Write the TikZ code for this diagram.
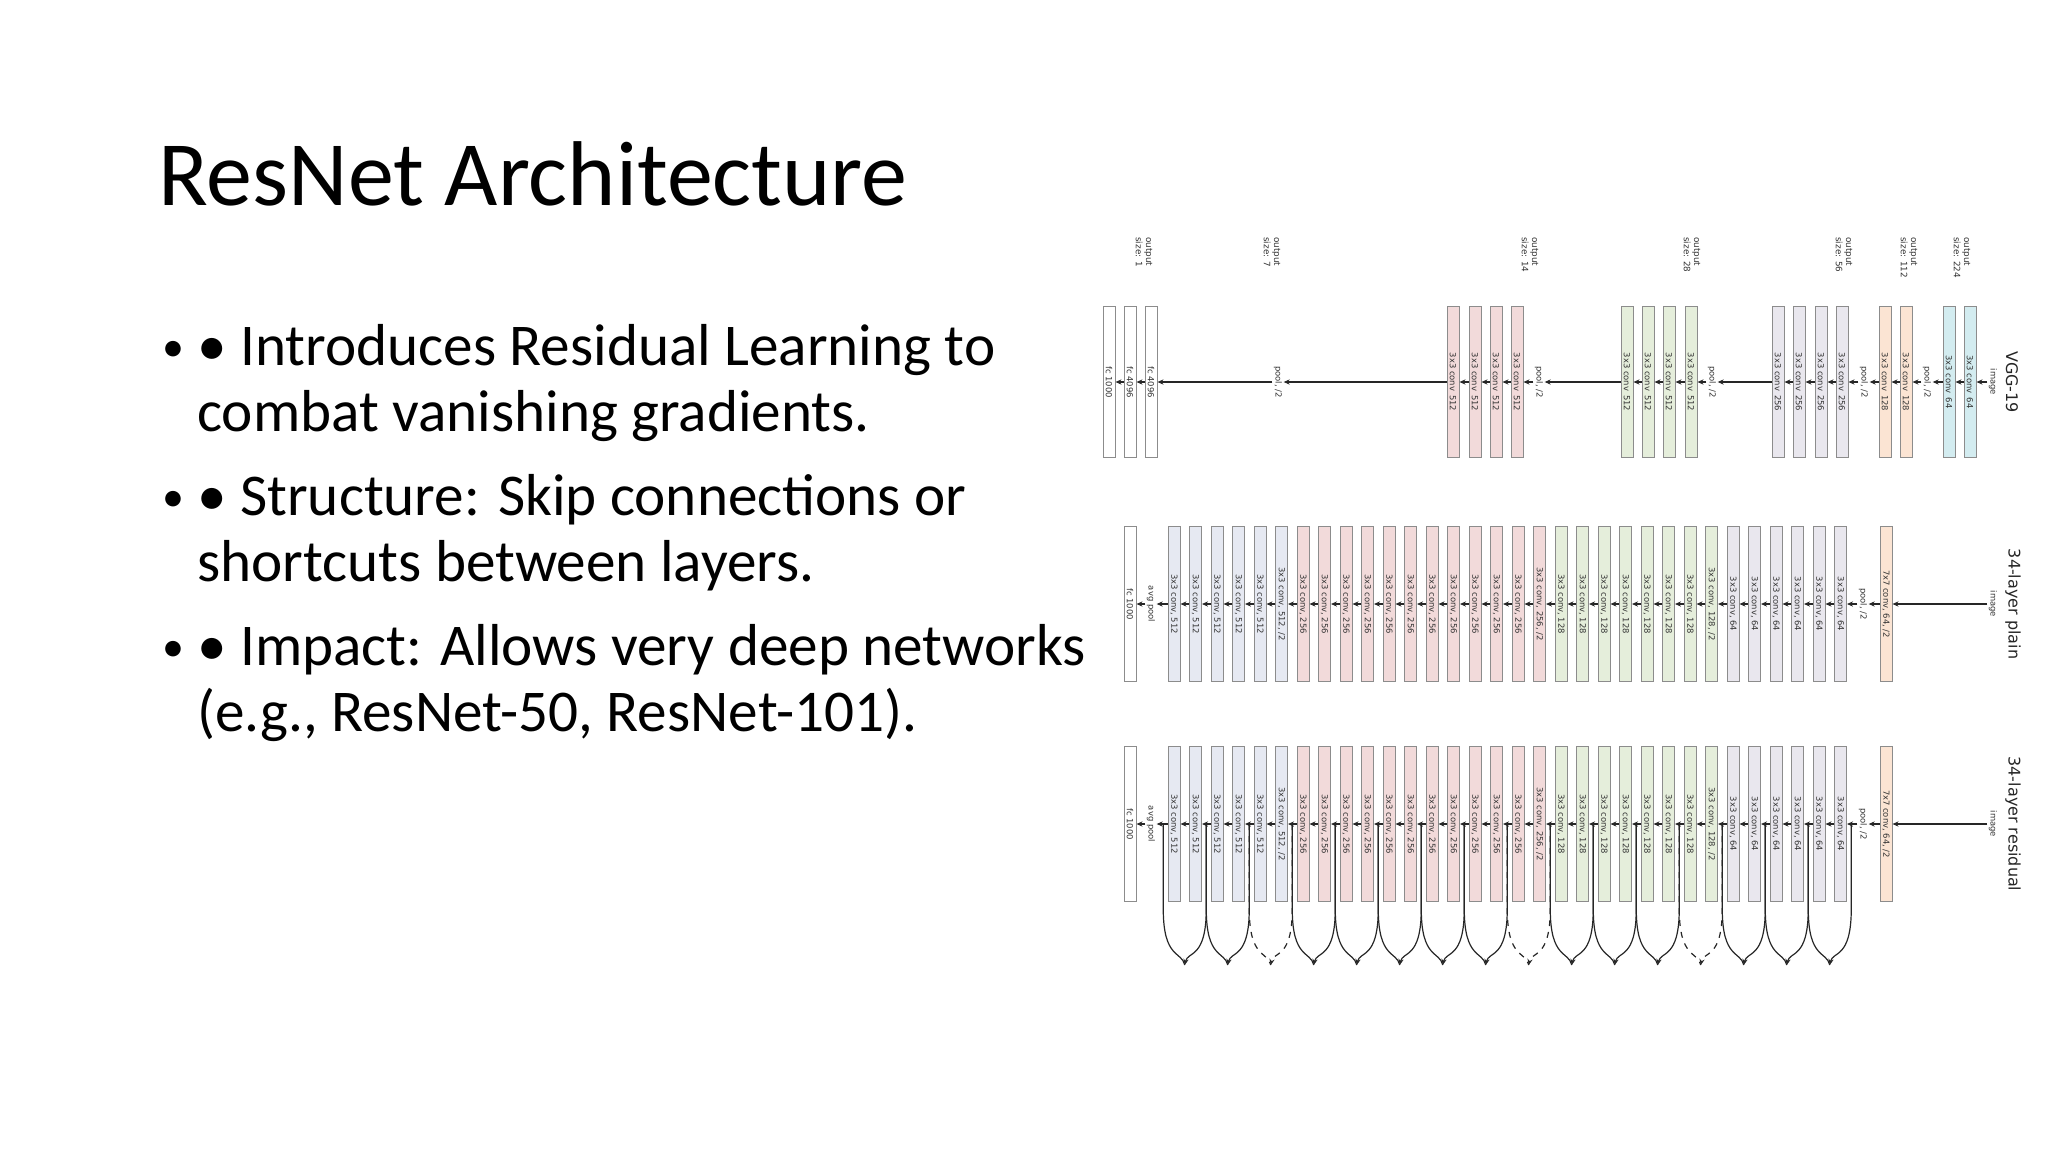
\documentclass[tikz,border=0pt]{standalone}
\usepackage{fontspec}
\setmainfont{Carlito}
\newfontfamily\dia{DejaVu Sans}
\usetikzlibrary{arrows.meta}
\definecolor{c512}{HTML}{E6E9F2}
\definecolor{c256}{HTML}{F2DADA}
\definecolor{c128}{HTML}{E5EEDB}
\definecolor{c64}{HTML}{E9E7EE}
\definecolor{cor}{HTML}{FBE4D3}
\definecolor{cbl}{HTML}{D3ECF0}
\newcommand\convrow[2]{%
  \foreach \i in {0,...,31}{%
    \pgfmathsetmacro\xx{1192+21.5*\i}%
    \ifnum\i<6 \def\rcol{c512}\def\rlab{512}\else\ifnum\i<18 \def\rcol{c256}\def\rlab{256}\else\ifnum\i<26 \def\rcol{c128}\def\rlab{128}\else\def\rcol{c64}\def\rlab{64}\fi\fi\fi
    \ifnum\i=5 \def\rlab{512, /2}\fi
    \ifnum\i=17 \def\rlab{256, /2}\fi
    \ifnum\i=25 \def\rlab{128, /2}\fi
    \node[box, fill=\rcol, minimum width=77.5pt] (#1\i) at (\xx,#2) {3x3 conv, \rlab};
  }%
  \foreach \i [evaluate=\i as \j using int(\i+1)] in {0,...,30}{\draw[arr] (#1\j) -- (#1\i);}
  \node[box, fill=cor, minimum width=77.5pt] (#1c7) at (1904,#2) {7x7 conv, 64, /2};
  \node[lbl] (#1pool) at (1881,#2) {pool, /2};
  \node[lbl] (#1img) at (2011,#2) {image};
  \node[lbl] (#1avg) at (1169,#2) {avg pool};
  \node[box, fill=white, minimum width=77.5pt] (#1fc) at (1148,#2) {fc 1000};
  \draw[arr] (#1img) -- (#1c7);
  \draw[arr] (#1c7) -- (#1pool);
  \draw[arr] (#1pool) -- (#131);
  \draw[arr] (#10) -- (#1avg);
  \draw[arr] (#1avg) -- (#1fc);
}
\begin{document}
\begin{tikzpicture}[x=0.5pt,y=-0.5pt,
  box/.style={draw=black!45, line width=0.5pt, minimum height=6pt, inner sep=0pt, rotate=-90, font=\dia\fontsize{4.2}{4.5}\selectfont, text=black!80},
  lbl/.style={rotate=-90, font=\dia\fontsize{4.2}{4.5}\selectfont, text=black!80, inner sep=0.6pt},
  osz/.style={rotate=-90, anchor=west, align=left, font=\dia\fontsize{4.4}{5.2}\selectfont, text=black!80, inner sep=0pt},
  ttl/.style={rotate=-90, font=\dia\fontsize{8}{9}\selectfont, text=black!85},
  arr/.style={-{Stealth[length=3pt,width=2.6pt]}, line width=0.7pt, black!85},
  skip/.style={line width=0.6pt, black!85},
  bul/.style={anchor=base west, font=\fontsize{29.6}{34}\selectfont, inner sep=0pt},
  mk/.style={anchor=base west, font=\fontsize{22}{26}\selectfont, inner sep=0pt}]
\useasboundingbox (0,0) rectangle (2048,1152);
\node[anchor=base west, font=\fontsize{46}{50}\selectfont, inner sep=0pt] (title) at (158,205) {ResNet Architecture};
% bullets
\node[mk] (m1) at (162,361) {•};
\node[bul] (l1) at (197,365) {• Introduces Residual Learning to};
\node[bul] (l1b) at (197,431) {combat vanishing gradients.};
\node[mk] (m2) at (162,511) {•};
\node[bul] (l2) at (197,515) {• Structure: Skip connections or};
\node[bul] (l2b) at (197,581) {shortcuts between layers.};
\node[mk] (m3) at (162,661) {•};
\node[bul] (l3) at (197,665) {• Impact: Allows very deep networks};
\node[bul] (l3b) at (197,731) {(e.g., ResNet-50, ResNet-101).};
\begin{scope}[shift={(-18,-6)}]
% VGG-19
\def\vy{388}
\foreach \nm/\x/\c/\t in {v1/1127/white/fc 1000, v2/1148/white/fc 4096, v3/1169/white/fc 4096,
  p1/1471/c256/3x3 conv\, 512, p2/1493/c256/3x3 conv\, 512, p3/1514/c256/3x3 conv\, 512, p4/1535/c256/3x3 conv\, 512,
  g1/1645/c128/3x3 conv\, 512, g2/1666/c128/3x3 conv\, 512, g3/1687/c128/3x3 conv\, 512, g4/1709/c128/3x3 conv\, 512,
  r1/1796/c64/3x3 conv\, 256, r2/1817/c64/3x3 conv\, 256, r3/1839/c64/3x3 conv\, 256, r4/1860/c64/3x3 conv\, 256,
  o1/1903/cor/3x3 conv\, 128, o2/1924/cor/3x3 conv\, 128, b1/1967/cbl/3x3 conv\, 64, b2/1988/cbl/3x3 conv\, 64}
  {\node[box, fill=\c, minimum width=75.5pt] (\nm) at (\x,\vy) {\t};}
\foreach \nm/\x in {q5/1296, q4/1557, q3/1730, q2/1882, q1/1945}
  {\node[lbl] (\nm) at (\x,\vy) {pool, /2};}
\node[lbl] (vimg) at (2011,\vy) {image};
\foreach \a/\b in {vimg/b2, b2/b1, b1/q1, q1/o2, o2/o1, o1/q2, q2/r4, r4/r3, r3/r2, r2/r1, r1/q3, q3/g4, g4/g3, g3/g2, g2/g1, g1/q4, q4/p4, p4/p3, p3/p2, p2/p1, p1/q5, q5/v3, v3/v2, v2/v1}
  {\draw[arr] (\a) -- (\b);}
\node[ttl] (tv) at (2030,\vy) {VGG-19};
\foreach \x/\s in {1162/1, 1290/7, 1548/14, 1710/28, 1862/56, 1927/112, 1980/224}
  {\node[osz] at (\x,243) {output\\size: \s};}
\end{scope}
\begin{scope}[shift={(-18,-8)}]
% 34-layer plain
\convrow{a}{612}
\node[ttl] (tp) at (2031,612) {34-layer plain};
\end{scope}
\begin{scope}[shift={(-18,-11)}]
% 34-layer residual
\convrow{r}{835}
\node[ttl] (tr) at (2031,835) {34-layer residual};
\foreach \b in {0,...,15}{%
  \pgfmathsetmacro\xl{1192+43*\b-10.75}
  \pgfmathsetmacro\xr{1192+43*\b+21.5+10.75}
  \pgfmathsetmacro\xm{1192+43*\b+10.75}
  \ifnum\b=2 \def\sty{dashed}\else\ifnum\b=8 \def\sty{dashed}\else\ifnum\b=12 \def\sty{dashed}\else\def\sty{solid}\fi\fi\fi
  \coordinate (sl\b) at (\xl,835);
  \coordinate (sr\b) at (\xr,835);
  \coordinate (sb\b) at (\xm,976);
  \draw[skip,\sty] (sl\b) -- ++(0,85) .. controls +(0,50) and +(-3,-14) .. (sb\b);
  \draw[skip,\sty,-{Stealth[length=3pt,width=2.6pt]}] (sr\b) -- ++(0,85) .. controls +(0,50) and +(3,-14) .. (sb\b);
}
\end{scope}
\end{tikzpicture}
\end{document}
